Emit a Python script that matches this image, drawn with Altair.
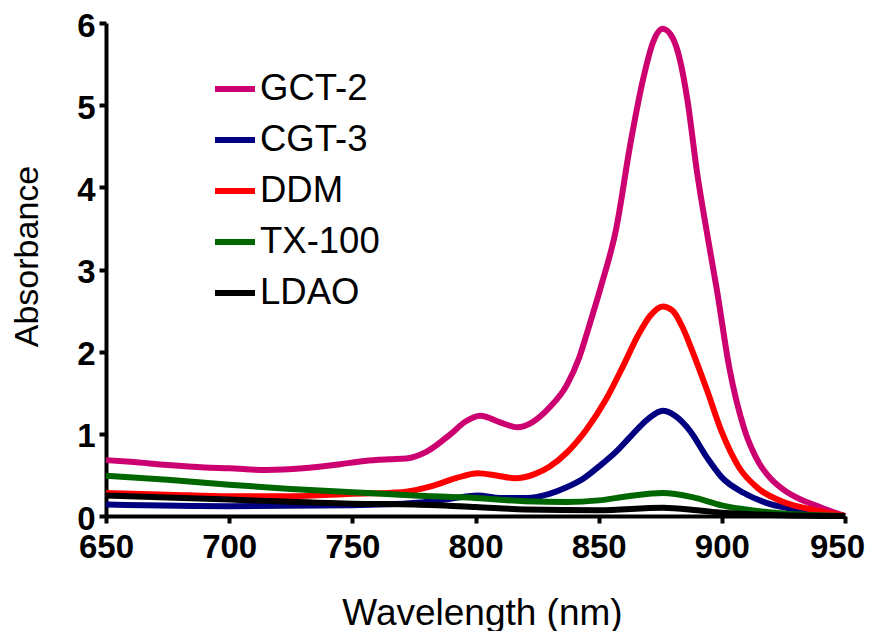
import altair as alt
import pandas as pd

series_names = ["GCT-2", "CGT-3", "DDM", "TX-100", "LDAO"]
series_colors = ["#CC0070", "#000080", "#FF0000", "#006600", "#000000"]

gct2_wl = [650, 660, 675, 690, 700, 715, 730, 745, 755, 765, 772, 780, 790, 796, 802, 810, 817, 823, 830, 837, 842, 846, 851, 857, 863, 868, 872, 876, 880, 883, 886, 890, 894, 898, 903, 909, 915, 920, 925, 932, 938, 944, 950]
gct2_abs = [0.68, 0.66, 0.62, 0.59, 0.58, 0.56, 0.58, 0.63, 0.67, 0.69, 0.70, 0.78, 1.00, 1.15, 1.22, 1.14, 1.08, 1.14, 1.32, 1.59, 1.92, 2.30, 2.80, 3.48, 4.55, 5.31, 5.76, 5.93, 5.82, 5.55, 5.07, 4.17, 3.44, 2.75, 1.81, 1.07, 0.65, 0.45, 0.32, 0.20, 0.13, 0.06, 0.0]

cgt3_wl = [650, 700, 750, 776, 790, 801, 810, 821, 830, 837, 844, 850, 857, 863, 870, 876, 881, 887, 894, 900, 909, 918, 932, 950]
cgt3_abs = [0.14, 0.12, 0.13, 0.16, 0.21, 0.25, 0.22, 0.22, 0.27, 0.35, 0.46, 0.60, 0.78, 0.97, 1.18, 1.28, 1.22, 1.04, 0.71, 0.47, 0.28, 0.16, 0.07, 0.0]

ddm_wl = [650, 675, 700, 725, 750, 770, 783, 792, 801, 809, 816, 824, 830, 837, 845, 853, 860, 866, 871, 876, 880, 884, 888, 894, 900, 907, 915, 925, 938, 950]
ddm_abs = [0.28, 0.26, 0.24, 0.24, 0.27, 0.29, 0.37, 0.46, 0.52, 0.49, 0.46, 0.51, 0.60, 0.77, 1.05, 1.42, 1.83, 2.20, 2.44, 2.55, 2.50, 2.30, 2.01, 1.53, 1.02, 0.59, 0.33, 0.17, 0.07, 0.0]

tx100_wl = [650, 675, 700, 725, 750, 775, 800, 820, 837, 850, 862, 876, 888, 900, 912, 925, 950]
tx100_abs = [0.49, 0.44, 0.38, 0.33, 0.29, 0.25, 0.22, 0.18, 0.17, 0.19, 0.24, 0.28, 0.23, 0.13, 0.07, 0.03, 0.0]

ldao_wl = [650, 700, 750, 775, 800, 820, 850, 876, 890, 900, 925, 950]
ldao_abs = [0.25, 0.20, 0.15, 0.14, 0.11, 0.08, 0.07, 0.10, 0.07, 0.04, 0.01, 0.0]

x_ticks = [650, 700, 750, 800, 850, 900, 950]
y_ticks = [0, 1, 2, 3, 4, 5, 6]

rows = []
for name, wl, ab in [
    ("GCT-2", gct2_wl, gct2_abs),
    ("CGT-3", cgt3_wl, cgt3_abs),
    ("DDM", ddm_wl, ddm_abs),
    ("TX-100", tx100_wl, tx100_abs),
    ("LDAO", ldao_wl, ldao_abs),
]:
    for w, a in zip(wl, ab):
        rows.append({"series": name, "wl": w, "abs": a, "ord": series_names.index(name)})
df = pd.DataFrame(rows)

FONT = "Liberation Sans"

chart = alt.Chart(df).mark_line(strokeWidth=6, interpolate="monotone").encode(
    x=alt.X("wl:Q", scale=alt.Scale(domain=[650, 950], nice=False, zero=False),
            axis=alt.Axis(values=x_ticks, title="Wavelength (nm)", format="d",
                          titlePadding=31, labelPadding=8, titleFontSize=37,
                          titleX=376, labelFlush=False,
                          labelOffset={"condition": {"test": "datum.value == 950", "value": -8},
                                       "value": 0})),
    y=alt.Y("abs:Q", scale=alt.Scale(domain=[0, 6], nice=False),
            axis=alt.Axis(values=y_ticks, title="Absorbance", format="d",
                          titlePadding=32, labelPadding=4, titleY=233,
                          titleFontSize=34, labelOffset=3, labelFlush=False)),
    color=alt.Color("series:N", sort=series_names,
                    scale=alt.Scale(domain=series_names, range=series_colors),
                    legend=alt.Legend(orient="none", legendX=106, legendY=43, title=None,
                                      symbolType="stroke", symbolSize=1600,
                                      symbolStrokeWidth=6, labelFontSize=36.5,
                                      labelFont=FONT, labelOffset=2, rowPadding=9,
                                      padding=0, labelLimit=400)),
    order=alt.Order("ord:Q"),
    detail="series:N",
).properties(
    width=739,
    height=493,
    padding={"left": 98, "top": 15, "right": 21, "bottom": 115},
    autosize=alt.AutoSizeParams(type="none"),
).configure_view(stroke=None).configure_axis(
    grid=False,
    domainColor="black",
    domainWidth=4,
    tickColor="black",
    tickWidth=4,
    tickSize=7,
    labelFont=FONT,
    labelFontWeight="bold",
    labelFontSize=33,
    labelColor="black",
    titleFont=FONT,
    titleFontWeight="normal",
    titleFontSize=35,
    titleColor="black",
)

chart.save("out.html", embed_options={"renderer": "svg", "actions": False})
